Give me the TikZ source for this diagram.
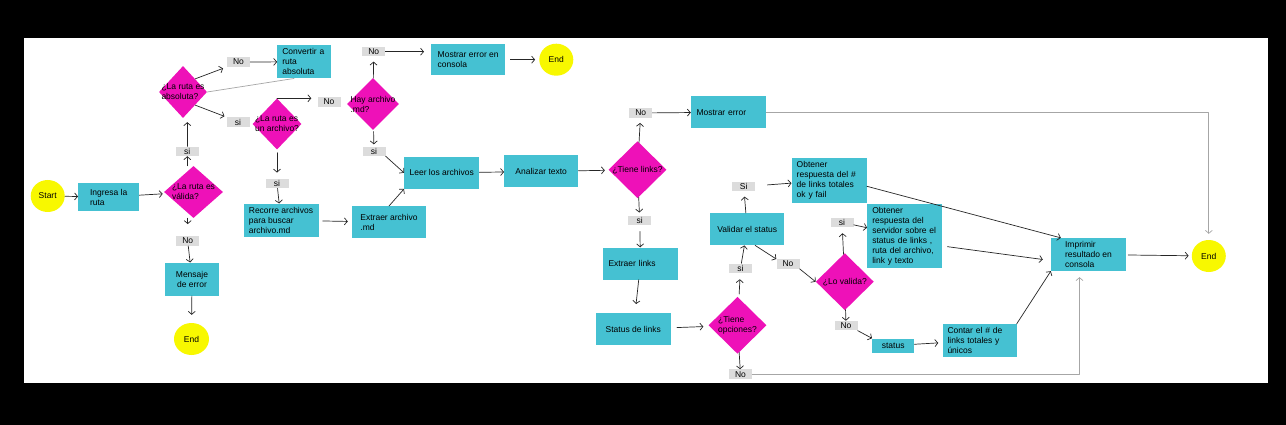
\documentclass[tikz,border=0pt]{standalone}
\usepackage{fontspec}
\setmainfont{Liberation Sans}
\usetikzlibrary{shapes.geometric,arrows.meta}
\definecolor{procc}{HTML}{45C1D2}
\definecolor{decc}{HTML}{EE11B8}
\definecolor{endc}{HTML}{F8F800}
\definecolor{lblc}{HTML}{DCDCDC}
\begin{document}
\begin{tikzpicture}[x=1pt, y=-1pt, font=\fontsize{8.5}{10}\selectfont, line join=round, line cap=round,
    >={Straight Barb[length=3pt,width=7pt]},
    proc/.style={fill=procc, minimum width=75pt, minimum height=32pt, align=left, inner xsep=5pt},
    dec/.style={diamond, fill=decc, inner sep=0pt},
    dtxt/.style={align=left},
    term/.style={ellipse, fill=endc, minimum width=34pt, minimum height=32pt, inner sep=0pt},
    lbl/.style={fill=lblc, minimum width=23pt, minimum height=9.5pt, inner sep=0pt},
    conn/.style={->, draw=black!85, line width=0.7pt},
    gline/.style={draw=black!35, line width=0.7pt}]
    \fill[black] (0,0) rectangle (1286,425);
    \fill[white] (24,38) rectangle (1268,383);
    % terminals
    \node[term] (start) at (47.7,196) {Start};
    \node[term] (end1) at (556.3,59.7) {End};
    \node[term, minimum width=35pt] (end2) at (191.5,339) {End};
    \node[term] (end3) at (1208.8,256) {End};
    % decisions
    \node[dec, minimum width=59pt, minimum height=52pt, label={[dtxt]center:¿La ruta es\\válida?}] (valida) at (193.5,192) {};
    \node[dec, minimum width=48pt, minimum height=52pt, label={[dtxt]center:¿La ruta es\\absoluta?}] (absoluta) at (183,92) {};
    \node[dec, minimum width=49pt, minimum height=51pt, label={[dtxt]center:¿La ruta es\\un archivo?}] (archivo) at (277,124) {};
    \node[dec, minimum width=52pt, minimum height=52pt, label={[dtxt]center:Hay archivo\\.md?}] (hay) at (373,104) {};
    \node[dec, minimum width=58pt, minimum height=57pt, label={[dtxt]center:¿Tiene links?}] (links) at (637.5,169.7) {};
    \node[dec, minimum width=58pt, minimum height=57pt, label={[dtxt]center:¿Tiene\\opciones?}] (opciones) at (737.5,325.3) {};
    \node[dec, minimum width=58pt, minimum height=57pt, label={[dtxt]center:¿Lo valida?}] (lovalida) at (844.8,281.7) {};
    % processes
    \node[proc, minimum width=61pt, minimum height=28pt] (ingresa) at (108.7,197) {Ingresa la\\ruta};
    \node[proc, minimum width=54pt, minimum height=31pt, text width=44pt] (convertir) at (304.3,61.8) {Convertir a\\ruta\\absoluta};
    \node[proc, minimum width=54pt, minimum height=33pt, align=center] (mensaje) at (192,279.2) {Mensaje\\de error};
    \node[proc] (recorre) at (281,220.2) {Recorre archivos\\para buscar\\archivo.md};
    \node[proc, minimum width=74pt] (extraer) at (389,222.2) {Extraer archivo\\.md};
    \node[proc] (leer) at (441.7,172.8) {Leer los archivos};
    \node[proc, minimum width=74pt] (analizar) at (541.2,171.5) {Analizar texto};
    \node[proc, minimum width=74pt, minimum height=31pt] (mostrarc) at (468.2,59.7) {Mostrar error en\\consola};
    \node[proc, text width=64pt, inner xsep=5.5pt] (merror) at (728.5,112.2) {Mostrar error};
    \node[proc, text width=64pt] (extl) at (640.5,263.5) {Extraer links};
    \node[proc] (slinks) at (633.3,329.2) {Status de links};
    \node[proc, minimum width=74pt] (validar) at (747.2,229.2) {Validar el status};
    \node[proc, minimum height=41pt, text width=65pt] (obt1) at (829.2,180.3) {Obtener\\respuesta del \#\\de links totales\\ok y fail};
    \node[proc, minimum height=60pt, text width=65pt] (obt2) at (904.8,236) {Obtener\\respuesta del\\servidor sobre el\\status de links ,\\ruta del archivo,\\link y texto};
    \node[proc] (imprimir) at (1088.5,254.5) {Imprimir\\resultado en\\consola};
    \node[proc, minimum width=42pt, minimum height=14pt, inner sep=0pt] (status) at (893.2,345.5) {status};
    \node[proc, minimum width=74pt, text width=64pt] (contar) at (979.5,340.5) {Contar el \# de\\links totales y\\únicos};
    % answers
    \foreach \nm/\xx/\yy/\tx in {si1/187.3/151.3/si, no1/238.5/62/No, si2/238/122/si, no2/329/102/No,
        si3/277/183.5/si, no3/373.7/51.7/No, si4/374/151.3/si, no4/640.7/113/No, si5/639.7/220.5/si,
        si6/740.5/268.3/si, si7/743.7/186.7/Si, no5/788/264/No, si8/842/222.3/si, no6/846/325.7/No,
        no7/740.5/374.2/No, no8/187.7/241/No}
        \node[lbl] (\nm) at (\xx,\yy) {\tx};
    % connectors
    \draw[conn] (start) -- (ingresa);
    \draw[conn, shorten >=3pt] (ingresa) -- (valida);
    \draw[conn] (valida.north -| si1) -- (si1);
    \draw[conn, shorten >=4pt] (si1) -- (absoluta.south -| si1);
    \draw[conn, shorten >=4pt] (absoluta.north east) -- (no1.south west);
    \draw[conn] (no1) -- (convertir);
    \draw[gline] ([xshift=17pt]convertir.south west) -- (absoluta.east);
    \draw[conn, shorten >=2pt] (absoluta.south east) -- (si2.north west);
    \draw[conn, shorten >=6pt] (archivo.north) -- (archivo.north -| no2.west);
    \draw[conn, shorten <=3pt, shorten >=6pt] (archivo) -- (si3);
    \draw[conn] (si3) -- (recorre);
    \draw[conn, shorten <=4pt, shorten >=4pt] (recorre) -- (extraer);
    \draw[conn] (extraer.north) -- (leer.south west);
    \draw[conn] (leer) -- (analizar);
    \draw[conn, shorten >=5pt] (hay) -- (no3);
    \draw[conn, shorten >=7pt] (no3.east) -- (no3.east -| mostrarc.west);
    \draw[conn, shorten <=5pt, shorten >=4pt] (mostrarc) -- (end1);
    \draw[conn, shorten <=2pt, shorten >=2pt] (hay) -- (si4);
    \draw[conn] (si4.south east) -- (leer.west);
    \draw[conn, shorten >=4pt] (analizar) -- (links);
    \draw[conn, shorten >=5pt] (links) -- (no4);
    \draw[conn] (no4) -- (merror);
    \draw[gline, ->, shorten >=6pt] (merror.east) -| (end3.north);
    \draw[conn, shorten >=3pt] (links) -- (si5);
    \draw[conn, shorten <=6pt] (si5) -- (extl);
    \draw[conn, shorten >=9pt] (extl) -- (slinks);
    \draw[conn, shorten <=6pt, shorten >=6pt] (slinks) -- (opciones);
    \draw[conn, shorten <=4pt, shorten >=6pt] (opciones) -- (si6);
    \draw[conn] (si6) -- (validar);
    \draw[conn, shorten >=5pt] (validar) -- (si7);
    \draw[conn, shorten <=12pt] (si7) -- (obt1);
    \draw[conn] ([yshift=-6pt]obt1.east) -- ([xshift=10pt]imprimir.north west);
    \draw[conn] (validar.-64) -- (no5.north west);
    \draw[conn] (no5.south east) -- (lovalida.west);
    \draw[conn, shorten >=6pt] (lovalida) -- (si8);
    \draw[conn] (si8) -- (obt2);
    \draw[conn, shorten <=5pt] ([yshift=-10pt]obt2.east) -- ([xshift=-8pt,yshift=-5pt]imprimir.west);
    \draw[conn, shorten <=2pt, shorten >=3pt] (imprimir) -- (end3);
    \draw[conn] (lovalida) -- (no6);
    \draw[conn] (no6.south east) -- (status.north west);
    \draw[conn, shorten >=4pt] (status) -- (contar);
    \draw[conn] (contar.north east) -- (imprimir.south west);
    \draw[conn] (opciones) -- (no7);
    \draw[gline, ->, shorten >=6pt] (no7.east) -| ([xshift=-9pt]imprimir.south);
    \draw[conn, shorten >=12pt] (valida.south -| no8) -- (no8);
    \draw[conn] (no8) -- (mensaje);
    \draw[conn, shorten >=8pt] (mensaje) -- (end2);
\end{tikzpicture}
\end{document}
